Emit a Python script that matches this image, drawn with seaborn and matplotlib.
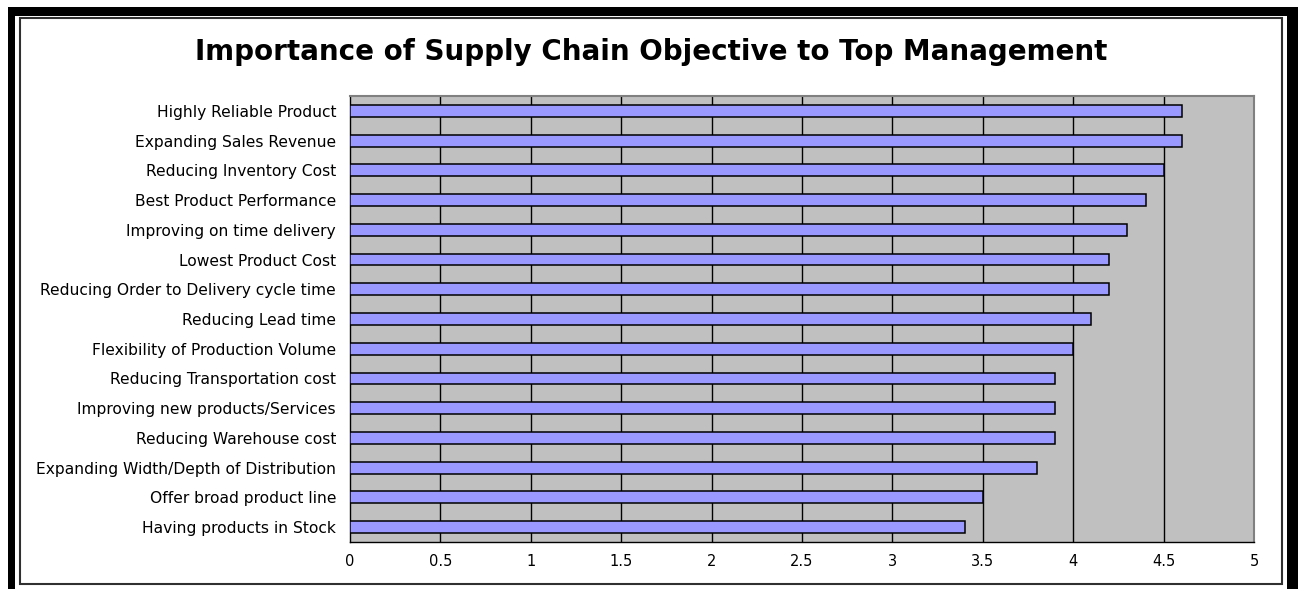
import matplotlib
matplotlib.use("Agg")
import matplotlib.pyplot as plt
import matplotlib.patches as mpatches
import seaborn as sns
import pandas as pd
import numpy as np

# =====================================
# DATA
# =====================================

objectives = [
    "Highly Reliable Product",
    "Expanding Sales Revenue",
    "Reducing Inventory Cost",
    "Best Product Performance",
    "Improving on time delivery",
    "Lowest Product Cost",
    "Reducing Order to Delivery cycle time",
    "Reducing Lead time",
    "Flexibility of Production Volume",
    "Reducing Transportation cost",
    "Improving new products/Services",
    "Reducing Warehouse cost",
    "Expanding Width/Depth of Distribution",
    "Offer broad product line",
    "Having products in Stock",
]
importance = [4.6, 4.6, 4.5, 4.4, 4.3, 4.2, 4.2, 4.1, 4.0, 3.9, 3.9, 3.9, 3.8, 3.5, 3.4]
x_ticks = [0, 0.5, 1, 1.5, 2, 2.5, 3, 3.5, 4, 4.5, 5]
x_tick_labels = ["0", "0.5", "1", "1.5", "2", "2.5", "3", "3.5", "4", "4.5", "5"]

df = pd.DataFrame({"Objective": objectives, "Importance": importance})

# =====================================
# FIGURE
# =====================================

sns.set_style("white")
plt.rcParams["font.family"] = ["DejaVu Sans"]
plt.rcParams["text.color"] = "black"
plt.rcParams["xtick.color"] = "black"
plt.rcParams["ytick.color"] = "black"

W, H = 1298, 589
fig = plt.figure(figsize=(W / 100, H / 100), dpi=100)
ax = fig.add_axes([350 / W, 1 - 542 / H, (1254 - 350) / W, (542 - 96) / H])
ax.set_facecolor("#C0C0C0")

sns.barplot(
    data=df,
    x="Importance",
    y="Objective",
    order=objectives,
    orient="h",
    color="#9999FF",
    saturation=1,
    edgecolor="black",
    linewidth=1.1,
    width=0.4,
    ax=ax,
    zorder=3,
)

ax.set_xlim(0, 5)
ax.set_ylim(len(objectives) - 0.5, -0.5)
ax.set_xticks(x_ticks)
ax.set_xticklabels(x_tick_labels, fontsize=10.5)
ax.set_xlabel("")
ax.set_ylabel("")

for xv in x_ticks[1:-1]:
    ax.axvline(xv, color="black", linewidth=1, zorder=1)

ax.tick_params(axis="y", length=0, labelsize=11.2, pad=10, labelcolor="black")
ax.set_yticks(np.arange(-0.5, len(objectives), 1), minor=True)
ax.tick_params(axis="y", which="minor", length=4, width=1, color="black", direction="out")
ax.tick_params(axis="x", length=5, width=1, color="black", direction="out", pad=4, labelcolor="black")

for side in ["left", "bottom"]:
    ax.spines[side].set_color("black")
    ax.spines[side].set_linewidth(1)
    ax.spines[side].set_visible(True)
for side in ["top", "right"]:
    ax.spines[side].set_color("#808080")
    ax.spines[side].set_linewidth(1.5)
    ax.spines[side].set_visible(True)

fig.text(
    (20 + 1282) / 2 / W, 1 - 52 / H,
    "Importance of Supply Chain Objective to Top Management",
    ha="center", va="center", fontsize=20, fontweight="bold", color="black",
)

# =====================================
# FRAME
# =====================================

def px_rect(x0, y0, x1, y1, **kw):
    return mpatches.Rectangle(
        (x0 / W, 1 - y1 / H), (x1 - x0) / W, (y1 - y0) / H,
        transform=fig.transFigure, **kw
    )

fig.add_artist(px_rect(8, 7, 15, H, facecolor="black", edgecolor="none"))
fig.add_artist(px_rect(8, 7, W, 16, facecolor="black", edgecolor="none"))
fig.add_artist(px_rect(1287, 7, W, H, facecolor="black", edgecolor="none"))
fig.add_artist(px_rect(20, 18, 1282, 584, facecolor="none", edgecolor="#303030", linewidth=1.5))

plt.savefig("out.png", dpi=100)
